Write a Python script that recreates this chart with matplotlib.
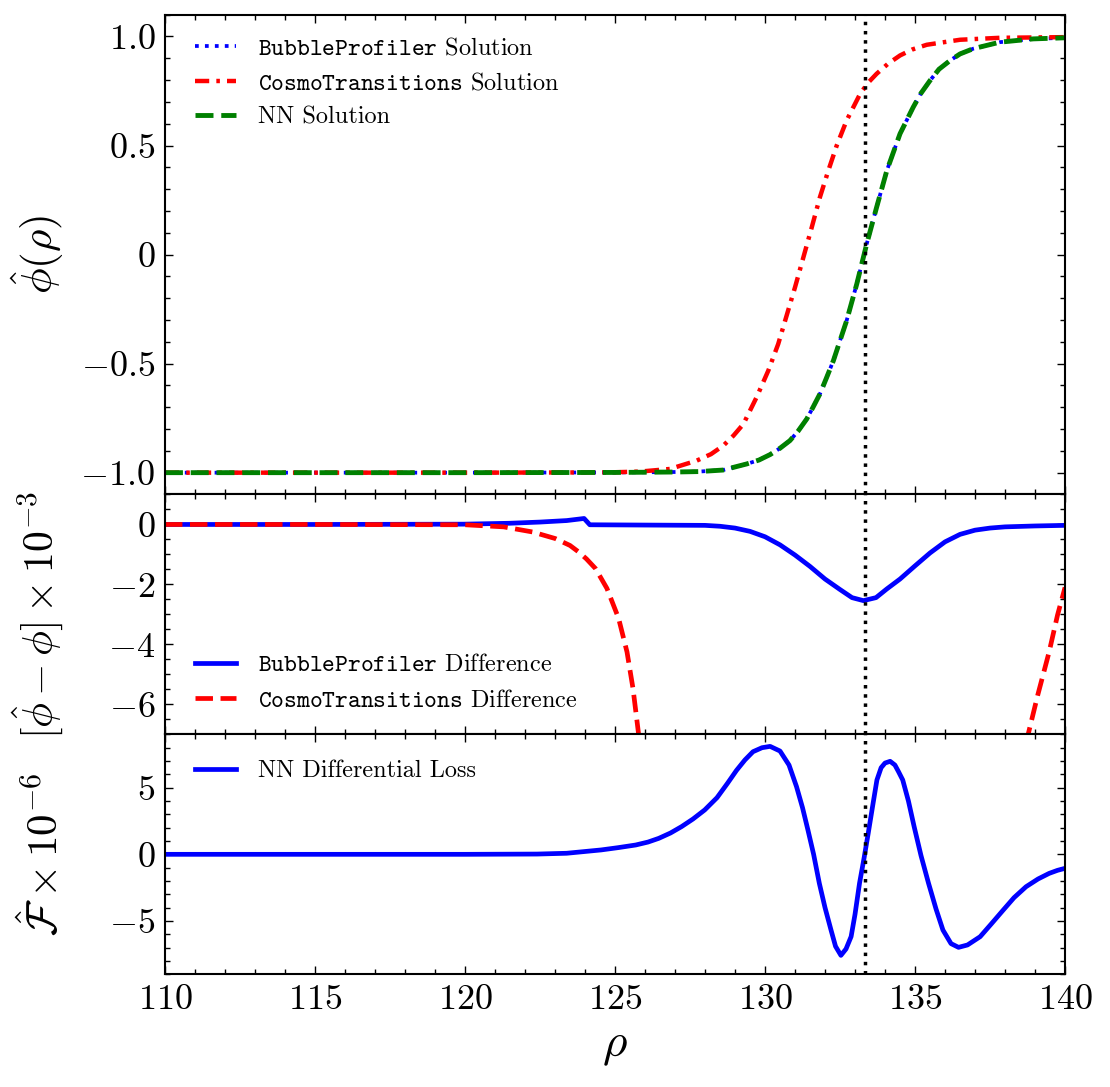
import numpy as np
import matplotlib
matplotlib.use("Agg")
import matplotlib.pyplot as plt
from matplotlib.ticker import MultipleLocator

plt.rcParams['font.family'] = ['cmr10', 'DejaVu Serif']
plt.rcParams['mathtext.fontset'] = 'cm'
plt.rcParams['axes.formatter.use_mathtext'] = True

# --- data ---
# top panel: field profiles
rho_nn = [110, 115, 120, 125, 127, 127.8, 128.6, 129.39, 129.8, 130.17, 130.5, 130.83,
          131.1, 131.39, 131.6, 131.83, 132.05, 132.28, 132.72, 133.06, 133.39, 133.72,
          134.06, 134.5, 134.94, 135.2, 135.5, 135.8, 136.17, 136.5, 136.94, 137.83,
          138.94, 140]
phi_nn = [-1, -1, -1, -0.999, -0.997, -0.995, -0.988, -0.960, -0.942, -0.917, -0.888, -0.853,
          -0.810, -0.754, -0.700, -0.639, -0.565, -0.486, -0.303, -0.134, 0.049, 0.217,
          0.385, 0.554, 0.676, 0.740, 0.798, 0.850, 0.890, 0.920, 0.944, 0.974,
          0.989, 0.994]
rho_bp = rho_nn
phi_bp = [-1, -1, -1, -0.999, -0.997, -0.995, -0.988, -0.960, -0.942, -0.917, -0.888, -0.853,
          -0.810, -0.754, -0.700, -0.639, -0.565, -0.486, -0.303, -0.134, 0.049, 0.217,
          0.385, 0.554, 0.676, 0.740, 0.798, 0.850, 0.890, 0.920, 0.944, 0.974,
          0.989, 0.994]
rho_ct = [110, 115, 120, 124, 125, 125.83, 126.83, 127.72, 128.2, 128.61, 128.95, 129.28,
          129.72, 130.11, 130.44, 130.72, 131.0, 131.28, 131.56, 131.83, 132.11, 132.39,
          132.72, 133.17, 133.45, 133.72, 134.1, 134.5, 134.9, 135.39, 136.5, 137.83, 140]
phi_ct = [-1, -1, -1, -0.999, -0.998, -0.995, -0.983, -0.945, -0.915, -0.876, -0.830, -0.777,
          -0.654, -0.532, -0.410, -0.280, -0.150, -0.012, 0.126, 0.263, 0.385, 0.500,
          0.615, 0.737, 0.790, 0.829, 0.875, 0.913, 0.940, 0.962, 0.985, 0.994, 0.997]

# middle panel: differences (x 1e-3)
rho_bp_diff = [110, 115, 119.95, 121.48, 122.5, 123.39, 123.97, 124.16, 126, 128.0,
               128.5, 129.0, 129.5, 130.0, 130.5, 131.0, 131.5, 132.0, 132.5, 132.9,
               133.28, 133.7, 134.06, 134.5, 135.0, 135.5, 136.0, 136.5, 137.0, 137.5,
               138.0, 139, 140]
bp_diff = [0, 0, 0.01, 0.04, 0.08, 0.13, 0.2, -0.01, -0.02, -0.03,
           -0.06, -0.12, -0.23, -0.41, -0.68, -1.02, -1.40, -1.82, -2.17, -2.44,
           -2.54, -2.44, -2.15, -1.82, -1.38, -0.95, -0.58, -0.33, -0.19, -0.12,
           -0.08, -0.05, -0.03]
rho_ct_diff = [110, 115, 120, 121.29, 122.25, 123.01, 123.5, 123.78, 124.05, 124.35,
               124.73, 125.12, 125.40, 125.60, 125.79, 125.9, 126.1, 138.6, 138.77,
               139.09, 139.47, 139.75, 140]
ct_diff = [0, 0, -0.01, -0.08, -0.25, -0.47, -0.70, -0.91, -1.15, -1.47,
           -2.13, -3.13, -4.25, -5.47, -7.02, -8, -9, -9, -7.0,
           -5.69, -4.25, -3.02, -2.1]

# bottom panel: differential loss (x 1e-6)
rho_loss = [110, 115, 120, 122.4, 123.39, 124.54, 125.1, 125.69, 126.1, 126.46, 126.85,
            127.22, 127.6, 127.99, 128.4, 128.75, 129.05, 129.33, 129.6, 129.9, 130.17,
            130.5, 130.8, 131.05, 131.25, 131.43, 131.62, 131.81, 132.0, 132.2, 132.35,
            132.53, 132.7, 132.87, 133.0, 133.15, 133.3, 133.44, 133.6, 133.73, 133.87,
            134.0, 134.17, 134.33, 134.45, 134.59, 134.78, 134.97, 135.2, 135.45, 135.7,
            135.93, 136.2, 136.45, 136.75, 137.17, 137.55, 137.94, 138.3, 138.7, 139.1,
            139.47, 139.75, 140]
loss = [0, 0, 0, 0.02, 0.08, 0.33, 0.5, 0.70, 0.92, 1.2, 1.6,
        2.08, 2.65, 3.33, 4.25, 5.33, 6.3, 7.08, 7.7, 8.0, 8.1,
        7.75, 6.7, 5.08, 3.5, 1.83, 0.0, -2.17, -4.0, -5.68, -6.9,
        -7.58, -7.1, -6.17, -4.5, -2.17, -0.3, 1.58, 3.8, 5.58, 6.5,
        6.85, 6.98, 6.7, 6.2, 5.58, 4.0, 2.08, -0.1, -2.17, -4.1,
        -5.68, -6.7, -6.98, -6.8, -6.18, -5.2, -4.18, -3.25, -2.43, -1.85,
        -1.43, -1.2, -1.05]

rho_zero = 133.33

fig = plt.figure(figsize=(11.1, 10.87), dpi=100)
gs = fig.add_gridspec(3, 1, height_ratios=[2, 1, 1], hspace=0,
                      left=0.1486, right=0.9595, top=0.9865, bottom=0.1037)
ax1 = fig.add_subplot(gs[0])
ax2 = fig.add_subplot(gs[1], sharex=ax1)
ax3 = fig.add_subplot(gs[2], sharex=ax1)

ax1.plot(rho_bp, phi_bp, color='b', ls=':', lw=2.7,
         label=r'$\mathtt{BubbleProfiler}$ Solution')
ax1.plot(rho_ct, phi_ct, color='r', lw=3.2, dashes=(3.2, 1.6, 0.8, 1.6),
         label=r'$\mathtt{CosmoTransitions}$ Solution')
ax1.plot(rho_nn, phi_nn, color='g', ls='--', lw=3.5, label='NN Solution')

ax2.plot(rho_bp_diff, bp_diff, color='b', lw=3.4,
         label=r'$\mathtt{BubbleProfiler}$ Difference')
ax2.plot(rho_ct_diff, ct_diff, color='r', ls='--', lw=3.4,
         label=r'$\mathtt{CosmoTransitions}$ Difference')

ax3.plot(rho_loss, loss, color='b', lw=3.4, label='NN Differential Loss')

for ax in (ax1, ax2, ax3):
    ax.axvline(rho_zero, color='k', ls=':', lw=2.5)
    ax.tick_params(which='both', direction='in', top=True, right=True, width=1)
    ax.tick_params(which='major', length=6, labelsize=26, pad=7)
    ax.tick_params(which='minor', length=3.5)
    ax.xaxis.set_minor_locator(MultipleLocator(1))
    for s in ax.spines.values():
        s.set_linewidth(1.5)
    ax.yaxis.set_label_coords(-0.11, 0.5)

ax1.set_xlim(110, 140)
ax1.set_ylim(-1.1, 1.1)
ax1.set_yticks([-1, -0.5, 0, 0.5, 1],
               [r'$-1.0$', r'$-0.5$', r'$0$', r'$0.5$', r'$1.0$'])
ax1.yaxis.set_minor_locator(MultipleLocator(0.1))
ax1.set_ylabel(r'$\hat{\phi}(\rho)$', fontsize=31)

ax2.set_ylim(-7, 1)
ax2.set_yticks([-6, -4, -2, 0], [r'$-6$', r'$-4$', r'$-2$', r'$0$'])
ax2.yaxis.set_minor_locator(MultipleLocator(0.5))
ax2.set_ylabel(r'$[\hat{\phi}-\phi]\times 10^{-3}$', fontsize=30)

ax3.set_ylim(-9, 9)
ax3.set_yticks([-5, 0, 5], [r'$-5$', r'$0$', r'$5$'])
ax3.yaxis.set_minor_locator(MultipleLocator(1))
ax3.set_ylabel(r'$\hat{\mathcal{F}}\times 10^{-6}$', fontsize=31)
ax3.set_xticks([110, 115, 120, 125, 130, 135, 140],
               [r'$110$', r'$115$', r'$120$', r'$125$', r'$130$', r'$135$', r'$140$'])
ax3.set_xlabel(r'$\rho$', fontsize=34, labelpad=8)

plt.setp(ax1.get_xticklabels(), visible=False)
plt.setp(ax2.get_xticklabels(), visible=False)

leg_kw = dict(frameon=False, fontsize=17.5, handlelength=1.7, handletextpad=0.9,
              borderaxespad=0)
ax1.legend(loc='upper left', bbox_to_anchor=(0.0226, 0.972), **leg_kw)
ax2.legend(loc='lower left', bbox_to_anchor=(0.0226, 0.053), labelspacing=0.55, **leg_kw)
ax3.legend(loc='upper left', bbox_to_anchor=(0.0226, 0.934), **leg_kw)

fig.savefig('out.png', dpi=100)
